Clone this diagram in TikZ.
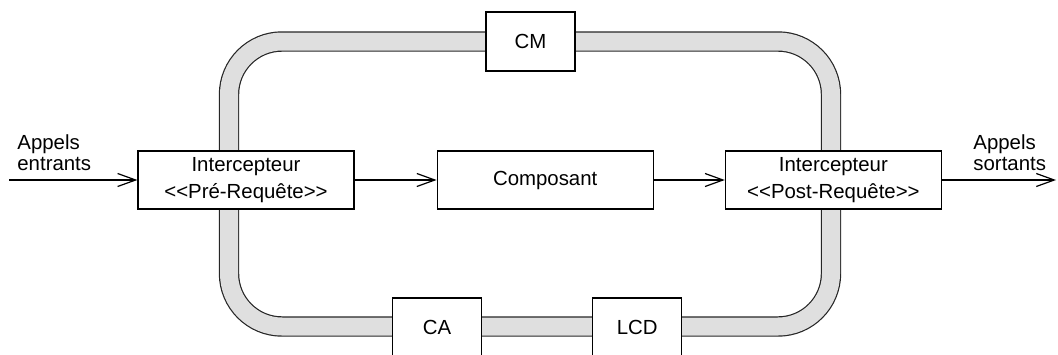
\documentclass[tikz,border=0pt]{standalone}
\usepackage{fontspec}
\setmainfont{Liberation Sans}
\usetikzlibrary{positioning, arrows.meta}

\begin{document}
\begin{tikzpicture}[
  x=0.5pt, y=-0.5pt,
  box/.style={rectangle, draw, fill=white, line width=0.6pt, minimum width=108pt, minimum height=29pt, align=center, font=\fontsize{10.2}{13.2}\selectfont},
  smallbox/.style={box, minimum width=44.5pt, minimum height=29.5pt},
  ring/.style={draw=black!85, line width=0.6pt, double=gray!25, double distance=9pt, rounded corners=26.5pt},
  arr/.style={-{Straight Barb[length=9pt, width=6.5pt]}, line width=0.6pt},
  lbl/.style={align=left, inner sep=0pt, font=\fontsize{10.2}{10.5}\selectfont}
]
\useasboundingbox (0,0) rectangle (1058,354);
% anneau des services
\draw[ring] (229,41.5) rectangle (831,326.5);

\node[box] (pre) at (246,180) {Intercepteur\\<{}<Pré-Requête>{}>};
\node[box, right=41pt of pre] (comp) {Composant};
\node[box, right=35.5pt of comp] (post) {Intercepteur\\<{}<Post-Requête>{}>};
\node[smallbox] (cm) at (530.5,41.5) {CM};
\node[smallbox] (ca) at (437,327.5) {CA};
\node[smallbox, right=55pt of ca] (lcd) {LCD};

\coordinate (in) at (9,180);
\coordinate (out) at (1056,180);
\node[lbl, anchor=west] (inlbl) at (17,153) {Appels\\entrants};
\node[lbl, anchor=west] (outlbl) at (973,153) {Appels\\sortants};

\draw[arr] (in) -- (pre);
\draw[arr] (pre) -- (comp);
\draw[arr] (comp) -- (post);
\draw[arr] (post) -- (out);
\end{tikzpicture}
\end{document}
